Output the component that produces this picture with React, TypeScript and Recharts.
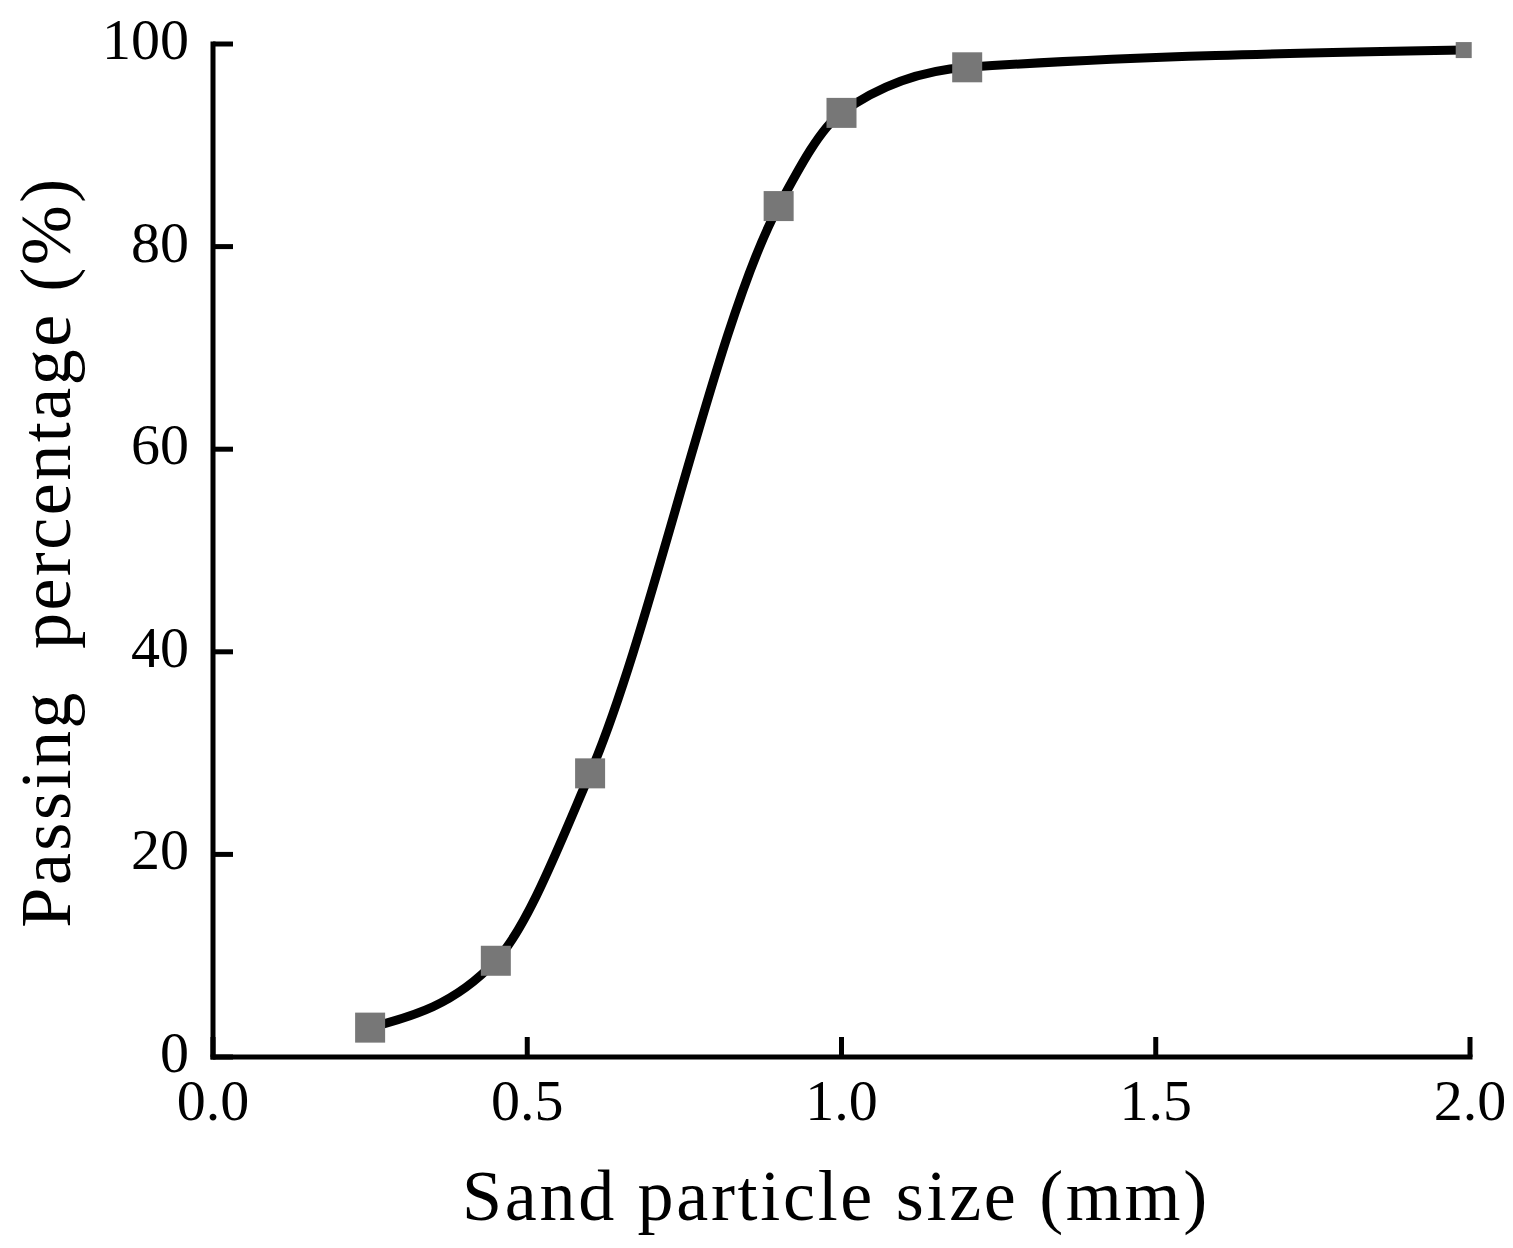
import React from 'react';
import { ComposedChart, Line, XAxis, YAxis } from 'recharts';

const particleSize = [0.25, 0.45, 0.6, 0.9, 1.0, 1.2, 1.99];
const passingPercent = [2.9, 9.5, 28.0, 84.0, 93.2, 97.7, 99.4];
const xTicks = [0, 0.5, 1.0, 1.5, 2.0];
const yTicks = [0, 20, 40, 60, 80, 100];

const data = particleSize.map((x, i) => ({ x, y: passingPercent[i] }));

const FONT = '"Liberation Serif", "Times New Roman", serif';

const SquareDot = (props: any) => {
  const { cx, cy, index } = props;
  if (cx == null || cy == null) return null;
  const s = index === particleSize.length - 1 ? 16 : 30;
  return <rect key={`d${index}`} x={cx - s / 2} y={cy - s / 2} width={s} height={s} fill="#777777" />;
};

const YTick = (props: any) => {
  const { x, y, payload } = props;
  const axisX = x + 22;
  return (
    <g>
      <line x1={axisX} x2={axisX + 20} y1={y} y2={y} stroke="#000" strokeWidth={5} />
      <text x={x - 2} y={y + 15} textAnchor="end" fontFamily={FONT} fontSize={58} fill="#000">
        {payload.value}
      </text>
    </g>
  );
};

const XTick = (props: any) => {
  const { x, y, payload } = props;
  const axisY = y - 22;
  return (
    <g>
      <line x1={x} x2={x} y1={axisY} y2={axisY - 20} stroke="#000" strokeWidth={5} />
      <text x={x} y={y + 41} textAnchor="middle" fontFamily={FONT} fontSize={58} fill="#000">
        {Number(payload.value).toFixed(1)}
      </text>
    </g>
  );
};

export default function App() {
  return (
    <div style={{ position: 'absolute', left: 0, top: 0, width: 1513, height: 1248, background: '#fff' }}>
      <ComposedChart
        width={1513}
        height={1248}
        data={data}
        margin={{ top: 44, right: 43, bottom: 71, left: 93 }}
      >
        <XAxis
          dataKey="x"
          type="number"
          domain={[0, 2]}
          ticks={xTicks}
          interval={0}
          height={120}
          tickSize={0}
          tickMargin={22}
          tickLine={false}
          axisLine={{ stroke: '#000', strokeWidth: 5, strokeLinecap: 'square' }}
          tick={<XTick />}
          label={{
            content: (p: any) => (
              <text
                x={836}
                y={1220}
                textAnchor="middle"
                fontFamily={FONT}
                fontSize={72}
                letterSpacing={2.7}
                fill="#000"
              >
                Sand particle size (mm)
              </text>
            ),
          }}
        />
        <YAxis
          type="number"
          domain={[0, 100]}
          ticks={yTicks}
          interval={0}
          width={120}
          tickSize={0}
          tickMargin={22}
          tickLine={false}
          axisLine={{ stroke: '#000', strokeWidth: 5, strokeLinecap: 'square' }}
          tick={<YTick />}
          label={{
            content: (p: any) => (
              <text
                x={70}
                y={552}
                transform="rotate(-90 70 552)"
                textAnchor="middle"
                fontFamily={FONT}
                fontSize={72}
                letterSpacing={2.5}
                fill="#000"
                style={{ whiteSpace: 'pre' }}
              >
                {'Passing  percentage (%)'}
              </text>
            ),
          }}
        />
        <Line
          dataKey="y"
          type="monotone"
          stroke="#000"
          strokeWidth={9}
          dot={<SquareDot />}
          activeDot={false}
          isAnimationActive={false}
        />
      </ComposedChart>
    </div>
  );
}
